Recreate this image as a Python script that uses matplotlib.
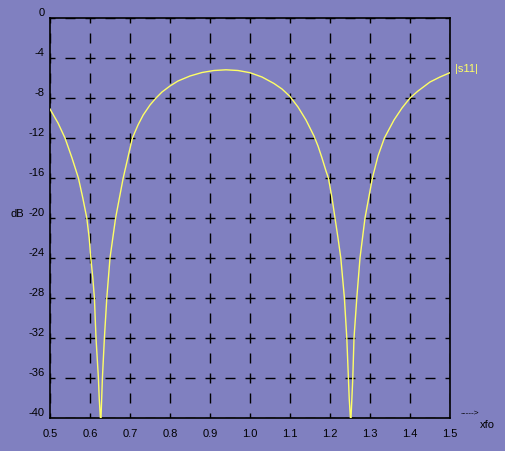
import matplotlib.pyplot as plt

plt.rcParams['font.family'] = ['Liberation Sans', 'DejaVu Sans']
plt.rcParams['lines.scale_dashes'] = False

# |s11| in dB
xfo = [0.5, 0.52, 0.5375, 0.555, 0.571, 0.582, 0.592, 0.598, 0.602, 0.607,
       0.611, 0.615, 0.621, 0.623, 0.626,
       0.6275, 0.631, 0.636, 0.642, 0.65, 0.664, 0.683, 0.706, 0.72, 0.733,
       0.75, 0.765, 0.78, 0.80, 0.82, 0.85, 0.88, 0.91, 0.94, 0.97, 1.0,
       1.03, 1.06, 1.08, 1.10, 1.12, 1.14, 1.16, 1.17, 1.18, 1.19, 1.196,
       1.205, 1.2125, 1.22, 1.227, 1.236, 1.242, 1.246, 1.248, 1.251,
       1.2525, 1.257, 1.26, 1.267, 1.275, 1.2875, 1.306, 1.32, 1.336, 1.36,
       1.38, 1.40, 1.42, 1.45, 1.475, 1.5]
s11 = [-9.1, -10.5, -12.0, -14.0, -16.0, -18.0, -20.0, -22.0, -24.0, -26.0,
       -28.0, -32.0, -36.0, -38.0, -40.0,
       -40.0, -36.0, -32.0, -28.0, -24.0, -20.0, -16.0, -12.0, -10.7, -9.7,
       -8.7, -8.0, -7.4, -6.8, -6.3, -5.8, -5.45, -5.25, -5.18, -5.25, -5.47,
       -5.9, -6.55, -7.1, -7.85, -8.9, -10.2, -11.8, -12.8, -14.0, -15.3, -16.0,
       -18.0, -20.0, -22.0, -24.0, -28.0, -32.0, -36.0, -38.0, -40.0,
       -40.0, -36.0, -32.0, -28.0, -24.0, -20.0, -16.0, -13.8, -12.0, -10.2,
       -9.0, -8.0, -7.3, -6.4, -5.9, -5.47]

xticks = [0.5, 0.6, 0.7, 0.8, 0.9, 1.0, 1.1, 1.2, 1.3, 1.4, 1.5]
xlabels = ['0.5', '0.6', '0.7', '0.8', '0.9', '1.0', '1.1', '1.2', '1.3', '1.4', '1.5']
yticks = [0, -4, -8, -12, -16, -20, -24, -28, -32, -36, -40]

bg = '#8080c0'
fig = plt.figure(figsize=(5.05, 4.51), dpi=100, facecolor=bg)
ax = fig.add_axes([50/505, 33/451, 400/505, 400/451], facecolor=bg)

ax.plot(xfo, s11, color='#ffff66', lw=1.0, zorder=3)
ax.set_xlim(0.5, 1.5)
ax.set_ylim(-40, 0)

ax.set_xticks(xticks, xlabels)
ax.set_yticks(yticks, [str(v) for v in yticks])
ax.tick_params(length=0, labelsize=8, colors='black')
ax.tick_params(axis='x', pad=8)
ax.tick_params(axis='y', pad=4)
for lbl in ax.get_yticklabels():
    lbl.set_verticalalignment('bottom')

ax.grid(True, color='black', lw=1.0, linestyle=(3.6, (7.2, 7.2)), zorder=1)
ax.set_axisbelow(True)
for s in ax.spines.values():
    s.set_color('black')
    s.set_linewidth(1.2)

ax.annotate('|s11|', xy=(xfo[-1], s11[-1]), xytext=(5, 4), textcoords='offset pixels',
            color='#ffff66', fontsize=8, ha='left', va='center')

fig.text(17/505, 1 - 214/451, 'dB', fontsize=8, ha='center', va='center')
fig.text(470/505, 1 - 413/451, '----->', fontsize=6, ha='center', va='center')
fig.text(487/505, 1 - 425/451, 'xfo', fontsize=8, ha='center', va='center')

fig.savefig('out.png', dpi=100, facecolor=bg)
